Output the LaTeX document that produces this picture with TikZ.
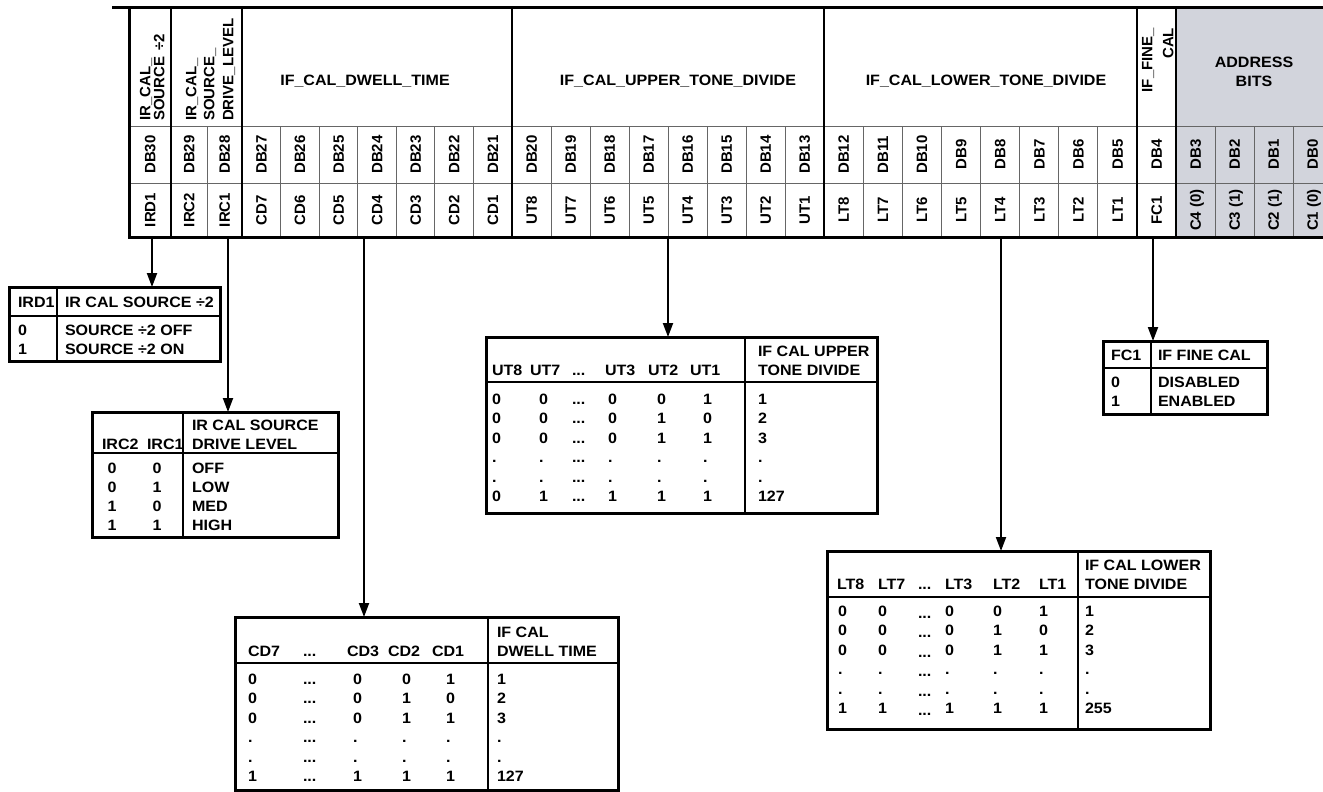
\documentclass[tikz,border=0pt]{standalone}
\usepackage{fontspec}
\setmainfont{Liberation Sans}
\newfontfamily\widefont{Liberation Sans}[FakeStretch=1.07]
\usepackage{tikz}
\usetikzlibrary{arrows.meta}
\definecolor{addrgrey}{RGB}{210,212,220}
\newcommand\tridot{...}

\begin{document}
\begin{tikzpicture}[x=1pt,y=-1pt,
  every node/.style={font=\bfseries\fontsize{15}{17}\selectfont,inner sep=0pt,outer sep=0pt,text height=10.7pt,text depth=0pt},
  vtxt/.style={rotate=90},
  ttxt/.style={font=\widefont\bfseries\fontsize{15}{17}\selectfont,anchor=west},
  borderrule/.style={line width=3pt},
  grouprule/.style={line width=2.2pt},
  bitrule/.style={line width=0.9pt,black!60},
  tblbox/.style={draw,line width=3pt,anchor=north west},
  tblrule/.style={line width=1.4pt},
  sig/.style={line width=2pt,-{Triangle[length=14pt,width=10pt]}}]
  \useasboundingbox (0,0) rectangle (1323,792);
  \clip (0,0) rectangle (1323,792);

  % register
  \fill[addrgrey] (1176,8) rectangle (1340,237);
  \draw[bitrule] (129,126) -- (1340,126) (129,183) -- (1340,183);
  \draw[bitrule] (207,126) -- (207,237);
  \foreach \i in {1,...,6} \draw[bitrule] ({242+\i*270/7},126) -- ++(0,111);
  \foreach \i in {1,...,7} \draw[bitrule] ({512+\i*39},126) -- ++(0,111);
  \foreach \i in {1,...,7} \draw[bitrule] ({824+\i*39.125},126) -- ++(0,111);
  \foreach \i in {1,...,4} \draw[bitrule] ({1176+\i*39},126) -- ++(0,111);
  \foreach \x in {171,242,512,824,1137,1176} \draw[grouprule] (\x,8) -- (\x,237);
  \draw[borderrule] (112,8) -- (1340,8);
  \draw[borderrule] (129,8) -- (129,237) -- (1340,237);

  \node[vtxt,anchor=west] (hdIRDa) at (145,121) {IR\_CAL\_};
  \node[vtxt,anchor=west] (hdIRDb) at (159,121) {SOURCE\hspace{6pt}÷2};
  \node[vtxt,anchor=west] (hdIRCa) at (191,121) {IR\_CAL\_};
  \node[vtxt,anchor=west] (hdIRCb) at (209,121) {SOURCE\_};
  \node[vtxt,anchor=west] (hdIRCc) at (228,121) {DRIVE\_LEVEL};
  \node[ttxt,anchor=center] (hdCD) at (365,80) {IF\_CAL\_DWELL\_TIME};
  \node[ttxt,anchor=center] (hdUT) at (678,80) {IF\_CAL\_UPPER\_TONE\_DIVIDE};
  \node[ttxt,anchor=center] (hdLT) at (986,80) {IF\_CAL\_LOWER\_TONE\_DIVIDE};
  \node[vtxt,anchor=east] (hdFCa) at (1147,28) {IF\_FINE\_};
  \node[vtxt,anchor=east] (hdFCb) at (1168,28) {CAL};
  \node[ttxt,anchor=center] (hdADa) at (1254,62) {ADDRESS};
  \node[ttxt,anchor=center] (hdADb) at (1254,81) {BITS};

  \foreach \db/\bit/\xc in {30/IRD1/150,29/IRC2/189,28/IRC1/224.5,4/FC1/1156.5} {
    \node[vtxt] (db\db) at (\xc,154.5) {DB\db};
    \node[vtxt] (bit\db) at (\xc,210) {\bit};
  }
  \foreach \i in {1,...,7} {
    \pgfmathtruncatemacro\db{28-\i}
    \pgfmathtruncatemacro\cd{8-\i}
    \node[vtxt] (db\db) at ({242+(\i-0.5)*270/7},154.5) {DB\db};
    \node[vtxt] (bit\db) at ({242+(\i-0.5)*270/7},210) {CD\cd};
  }
  \foreach \i in {1,...,8} {
    \pgfmathtruncatemacro\db{21-\i}
    \pgfmathtruncatemacro\ut{9-\i}
    \node[vtxt] (db\db) at ({512+(\i-0.5)*39},154.5) {DB\db};
    \node[vtxt] (bit\db) at ({512+(\i-0.5)*39},210) {UT\ut};
  }
  \foreach \i in {1,...,8} {
    \pgfmathtruncatemacro\db{13-\i}
    \pgfmathtruncatemacro\lt{9-\i}
    \node[vtxt] (db\db) at ({824+(\i-0.5)*39.125},154.5) {DB\db};
    \node[vtxt] (bit\db) at ({824+(\i-0.5)*39.125},210) {LT\lt};
  }
  \foreach \i/\bit in {1/C4 (0),2/C3 (1),3/C2 (1),4/C1 (0)} {
    \pgfmathtruncatemacro\db{4-\i}
    \node[vtxt] (db\db) at ({1176+(\i-0.5)*39},154.5) {DB\db};
    \node[vtxt] (bit\db) at ({1176+(\i-0.5)*39},210) {\bit};
  }

  \coordinate (tapIRD) at (152,237);
  \coordinate (tapIRC) at (228,237);
  \coordinate (tapCD) at (364,237);
  \coordinate (tapUT) at (668,237);
  \coordinate (tapLT) at (1001,237);
  \coordinate (tapFC) at (1153,237);

  % IRD1 table
  \node[tblbox,minimum width=211pt,minimum height=74pt] (tIRD) at (9,287) {};
  \draw[tblrule] (57,287) -- (57,361) (9,316) -- (220,316);
  \node[ttxt] (ird-h1) at (18,302) {IRD1};
  \node[ttxt] (ird-h2) at (65,302) {IR CAL SOURCE ÷2};
  \foreach \v/\txt [count=\r] in {0/SOURCE ÷2 OFF,1/SOURCE ÷2 ON} {
    \node[ttxt] (ird-v\r) at (18,{311+19*\r}) {\v};
    \node[ttxt] (ird-t\r) at (65,{311+19*\r}) {\txt};
  }

  % IRC table
  \node[tblbox,minimum width=246pt,minimum height=125pt] (tIRC) at (92,412) {};
  \draw[tblrule] (183,412) -- (183,537) (92,453) -- (338,453);
  \node[ttxt] (irc-h1) at (192,425) {IR CAL SOURCE};
  \node[ttxt] (irc-h2) at (192,444) {DRIVE LEVEL};
  \node[ttxt] (irc-c2) at (102,444) {IRC2};
  \node[ttxt] (irc-c1) at (147,444) {IRC1};
  \foreach \a/\b/\txt [count=\r] in {0/0/OFF,0/1/LOW,1/0/MED,1/1/HIGH} {
    \node[ttxt,anchor=center] (irc-a\r) at (112,{449+19*\r}) {\a};
    \node[ttxt,anchor=center] (irc-b\r) at (157,{449+19*\r}) {\b};
    \node[ttxt] (irc-t\r) at (192,{449+19*\r}) {\txt};
  }

  % UT table
  \node[tblbox,minimum width=391pt,minimum height=176pt] (tUT) at (486,337) {};
  \draw[tblrule] (745,337) -- (745,513) (486,382) -- (877,382);
  \node[ttxt] (ut-h1) at (758,351) {IF CAL UPPER};
  \node[ttxt] (ut-h2) at (758,370) {TONE DIVIDE};
  \foreach \x/\c in {492/UT8,530/UT7,572/\tridot,605/UT3,648/UT2,690/UT1}
    \node[ttxt] (ut-col\x) at (\x,370) {\c};
  \foreach \a/\b/\c/\d/\e/\n [count=\r] in {0/0/0/0/1/1,0/0/0/1/0/2,0/0/0/1/1/3,./././././.,./././././.,0/1/1/1/1/127} {
    \node[ttxt] (ut-\r a) at (492,{379.5+19.5*\r}) {\a};
    \node[ttxt] (ut-\r b) at (539,{379.5+19.5*\r}) {\b};
    \node[ttxt] (ut-\r x) at (572,{379.5+19.5*\r}) {\tridot};
    \node[ttxt] (ut-\r c) at (608,{379.5+19.5*\r}) {\c};
    \node[ttxt] (ut-\r d) at (657,{379.5+19.5*\r}) {\d};
    \node[ttxt] (ut-\r e) at (703,{379.5+19.5*\r}) {\e};
    \node[ttxt] (ut-\r n) at (758,{379.5+19.5*\r}) {\n};
  }

  % CD table
  \node[tblbox,minimum width=383pt,minimum height=173pt] (tCD) at (235,617) {};
  \draw[tblrule] (488,617) -- (488,790) (235,663) -- (618,663);
  \node[ttxt] (cd-h1) at (497,632) {IF CAL};
  \node[ttxt] (cd-h2) at (497,651) {DWELL TIME};
  \foreach \x/\c in {248/CD7,303/\tridot,347/CD3,388/CD2,432/CD1}
    \node[ttxt] (cd-col\x) at (\x,651) {\c};
  \foreach \a/\c/\d/\e/\n [count=\r] in {0/0/0/1/1,0/0/1/0/2,0/0/1/1/3,././././.,././././.,1/1/1/1/127} {
    \node[ttxt] (cd-\r a) at (248,{659.5+19.5*\r}) {\a};
    \node[ttxt] (cd-\r x) at (303,{659.5+19.5*\r}) {\tridot};
    \node[ttxt] (cd-\r c) at (353,{659.5+19.5*\r}) {\c};
    \node[ttxt] (cd-\r d) at (402,{659.5+19.5*\r}) {\d};
    \node[ttxt] (cd-\r e) at (446,{659.5+19.5*\r}) {\e};
    \node[ttxt] (cd-\r n) at (497,{659.5+19.5*\r}) {\n};
  }

  % LT table
  \node[tblbox,minimum width=383pt,minimum height=178pt] (tLT) at (827,551) {};
  \draw[tblrule] (1078,551) -- (1078,729) (827,597) -- (1210,597);
  \node[ttxt] (lt-h1) at (1085,565) {IF CAL LOWER};
  \node[ttxt] (lt-h2) at (1085,584) {TONE DIVIDE};
  \foreach \x/\c in {837/LT8,878/LT7,918/\tridot,945/LT3,993/LT2,1039/LT1}
    \node[ttxt] (lt-col\x) at (\x,584) {\c};
  \foreach \a/\b/\c/\d/\e/\n [count=\r] in {0/0/0/0/1/1,0/0/0/1/0/2,0/0/0/1/1/3,./././././.,./././././.,1/1/1/1/1/255} {
    \node[ttxt] (lt-\r a) at (838,{591.5+19.5*\r}) {\a};
    \node[ttxt] (lt-\r b) at (878,{591.5+19.5*\r}) {\b};
    \node[ttxt] (lt-\r x) at (918,{593.5+19.5*\r}) {\tridot};
    \node[ttxt] (lt-\r c) at (945,{591.5+19.5*\r}) {\c};
    \node[ttxt] (lt-\r d) at (993,{591.5+19.5*\r}) {\d};
    \node[ttxt] (lt-\r e) at (1039,{591.5+19.5*\r}) {\e};
    \node[ttxt] (lt-\r n) at (1085,{591.5+19.5*\r}) {\n};
  }

  % FC1 table
  \node[tblbox,minimum width=164pt,minimum height=73pt] (tFC) at (1103,341) {};
  \draw[tblrule] (1151,341) -- (1151,414) (1103,368) -- (1267,368);
  \node[ttxt] (fc-h1) at (1111,355) {FC1};
  \node[ttxt] (fc-h2) at (1158,355) {IF FINE CAL};
  \foreach \v/\txt [count=\r] in {0/DISABLED,1/ENABLED} {
    \node[ttxt] (fc-v\r) at (1111,{363+19*\r}) {\v};
    \node[ttxt] (fc-t\r) at (1158,{363+19*\r}) {\txt};
  }

  \draw[sig] (tapIRD) -- (tapIRD |- tIRD.north);
  \draw[sig] (tapIRC) -- (tapIRC |- tIRC.north);
  \draw[sig] (tapCD) -- (tapCD |- tCD.north);
  \draw[sig] (tapUT) -- (tapUT |- tUT.north);
  \draw[sig] (tapLT) -- (tapLT |- tLT.north);
  \draw[sig] (tapFC) -- (tapFC |- tFC.north);
\end{tikzpicture}
\end{document}
